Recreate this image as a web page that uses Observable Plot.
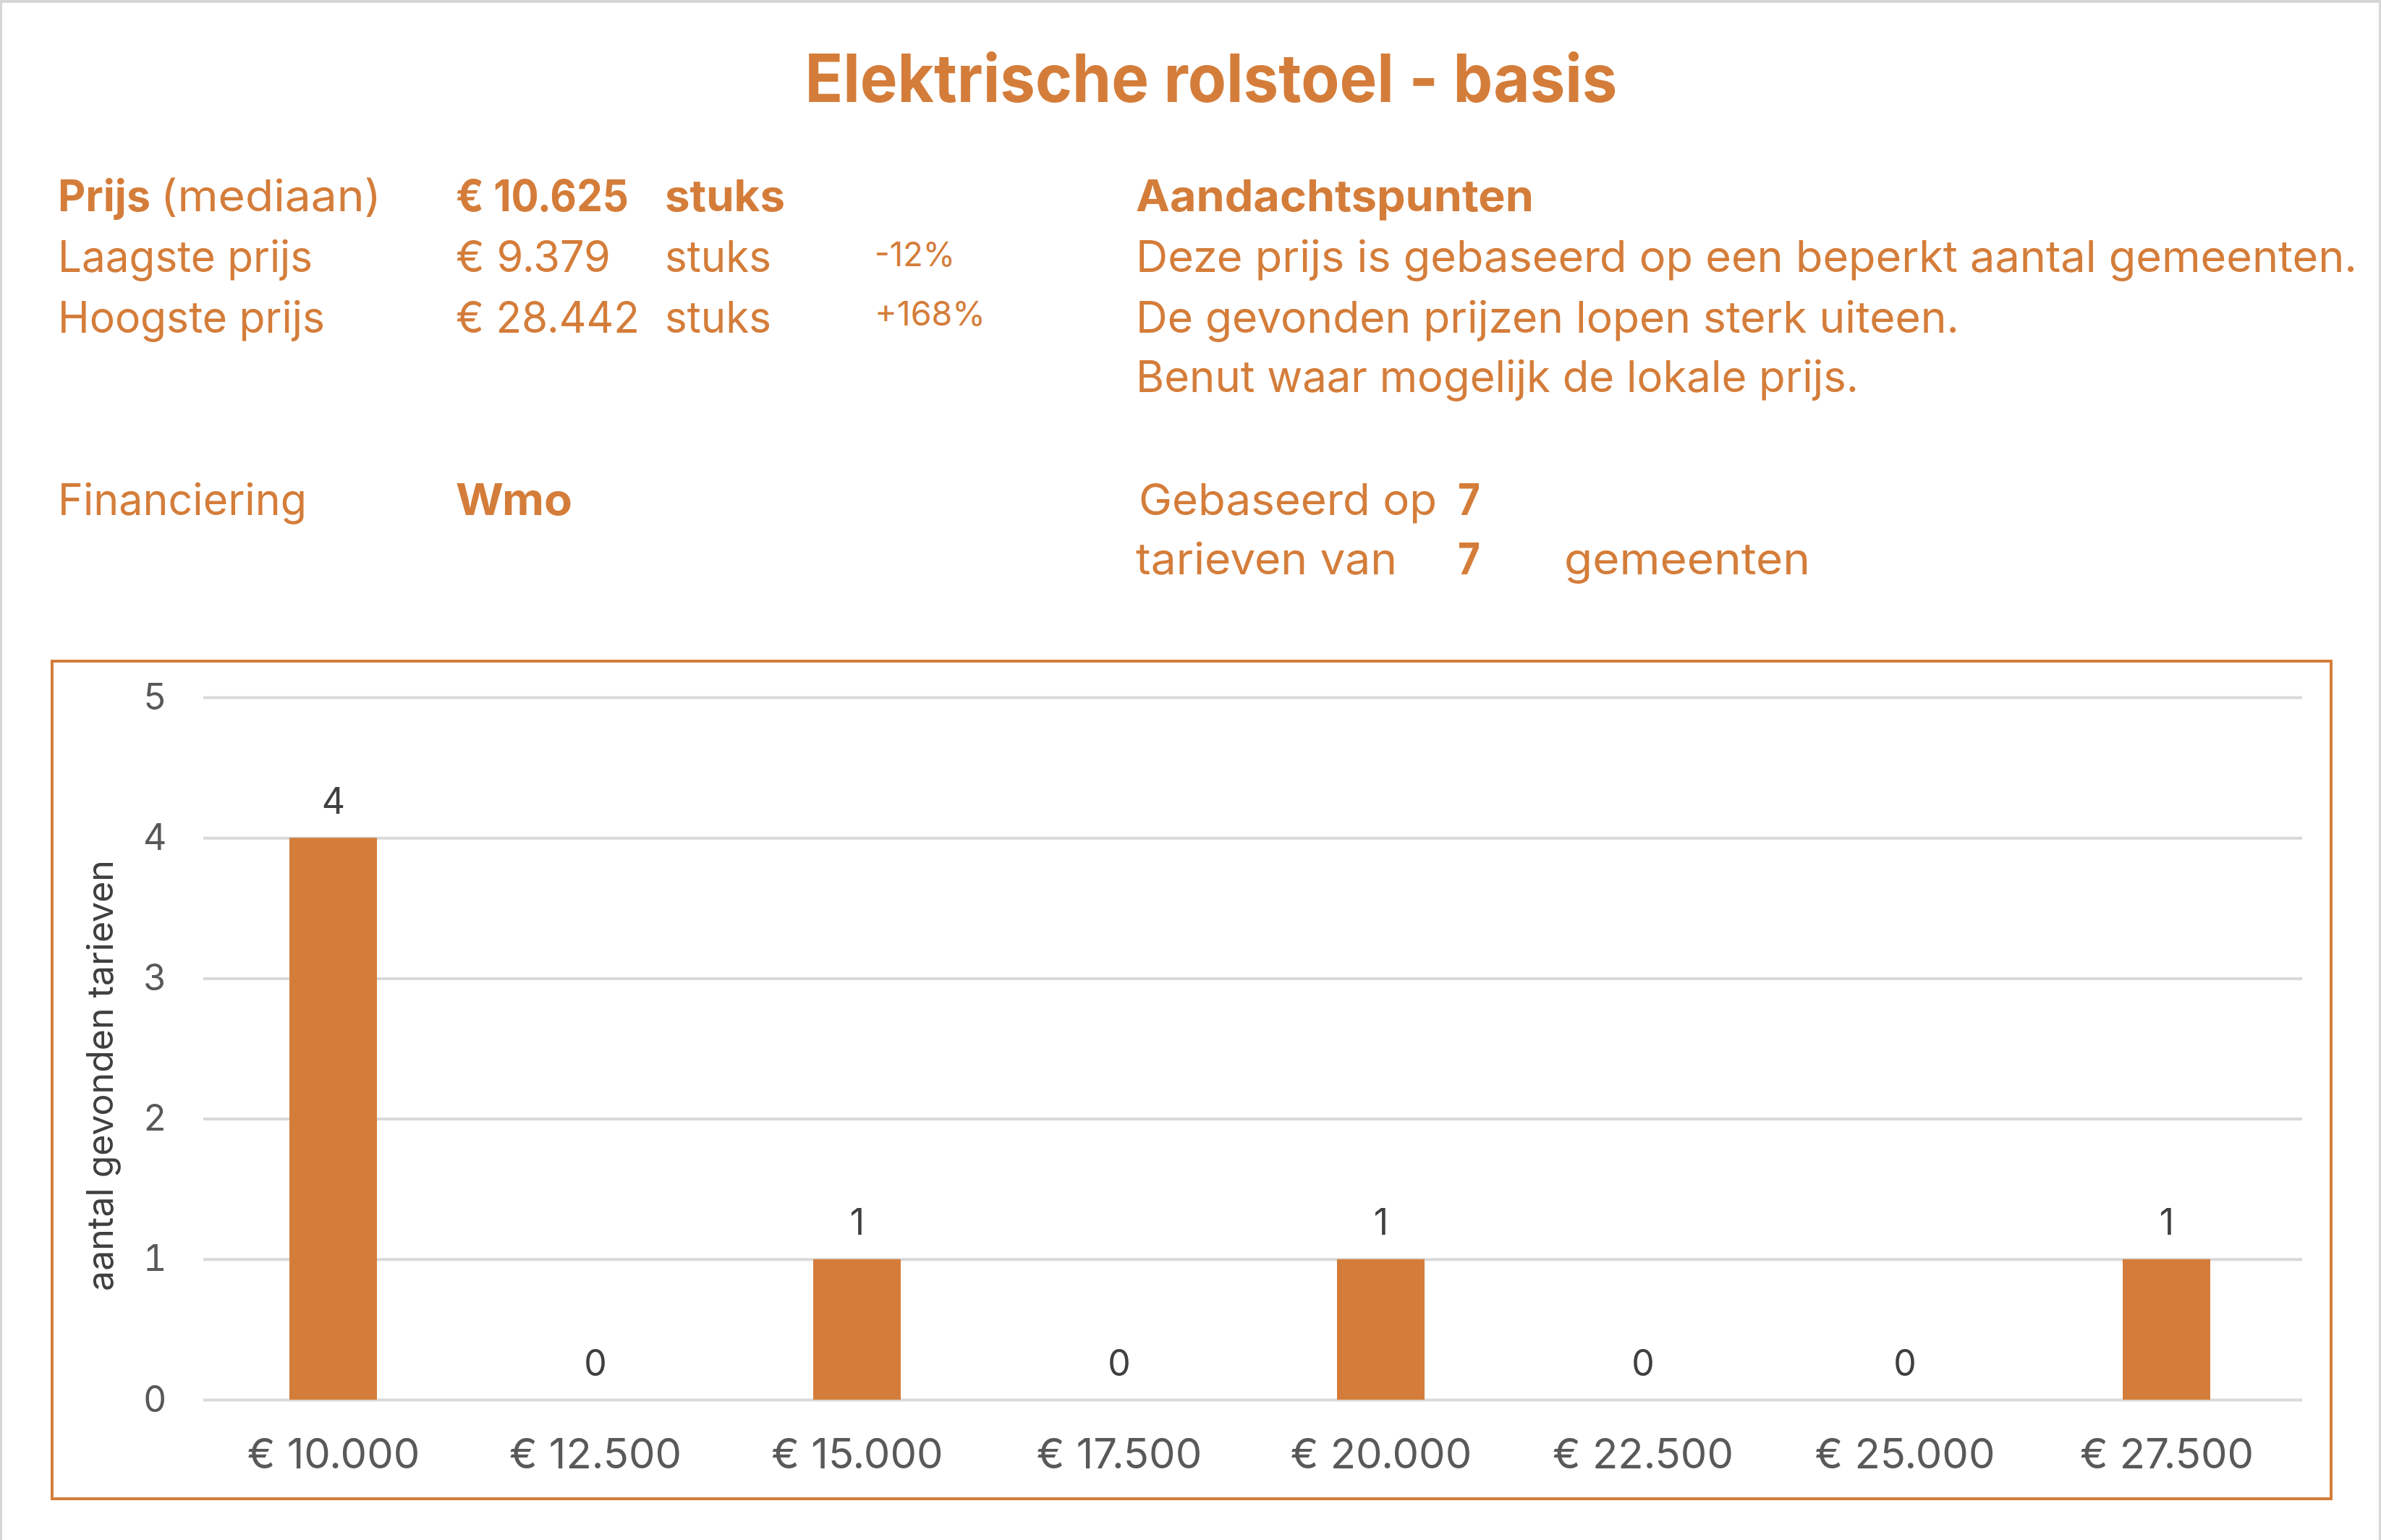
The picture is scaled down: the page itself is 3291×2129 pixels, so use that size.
<!DOCTYPE html>
<html>
<head>
<meta charset="utf-8">
<script src="https://cdn.jsdelivr.net/npm/d3@7"></script>
<script src="https://cdn.jsdelivr.net/npm/@observablehq/plot@0.6"></script>
<style>
  html, body { margin: 0; padding: 0; background: #fff; }
  #page { position: relative; width: 3291px; height: 2129px; overflow: hidden; background: #fff; }
  #pageborder { position: absolute; left: 0; top: 0; width: 3291px; height: 2129px; box-sizing: border-box;
    border-top: 4px solid #d6d6d6; border-left: 3px solid #d6d6d6; border-right: 3px solid #d6d6d6; pointer-events: none; }
  #header { position: absolute; left: 0; top: 0; }
  #frame { position: absolute; left: 70px; top: 912px; width: 3154px; height: 1162px; box-sizing: border-box;
    border: 4px solid #D47D3A; }
  #chart { position: absolute; left: 72px; top: 914px; }
</style>
</head>
<body>
<div id="page">
  <svg id="header" width="3291" height="900"></svg>
  <div id="frame"></div>
  <div id="chart"></div>
  <div id="pageborder"></div>
</div>
<script>
// ---------- data ----------
const title = "Elektrische rolstoel - basis";
const priceLabels = ["Prijs", "Laagste prijs", "Hoogste prijs"];
const medianNote = "(mediaan)";
const priceValues = ["€ 10.625", "€ 9.379", "€ 28.442"];
const priceUnit = "stuks";
const priceDiffs = ["", "-12%", "+168%"];
const notesTitle = "Aandachtspunten";
const notes = [
  "Deze prijs is gebaseerd op een beperkt aantal gemeenten.",
  "De gevonden prijzen lopen sterk uiteen.",
  "Benut waar mogelijk de lokale prijs."
];
const financingLabel = "Financiering";
const financing = "Wmo";
const basisTexts = ["Gebaseerd op", "tarieven van", "gemeenten"];
const nTarieven = 7;
const nGemeenten = 7;

const categories = ["€ 10.000", "€ 12.500", "€ 15.000", "€ 17.500", "€ 20.000", "€ 22.500", "€ 25.000", "€ 27.500"];
const counts = [4, 0, 1, 0, 1, 0, 0, 1];
const yTicks = [0, 1, 2, 3, 4, 5];
const yLabel = "aantal gevonden tarieven";

// ---------- header ----------
const ORANGE = "#D47D3A";
const FONT = "Inter, 'Open Sans', sans-serif";
const hdr = d3.select("#header");
function txt(str, x, y, size, weight, w, anchor) {
  const t = hdr.append("text")
    .attr("x", x).attr("y", y)
    .attr("font-family", FONT)
    .attr("font-size", size)
    .attr("font-weight", weight)
    .attr("fill", ORANGE)
    .attr("text-anchor", anchor || "start")
    .text(str);
  if (w) t.attr("textLength", w).attr("lengthAdjust", "spacingAndGlyphs");
  return t;
}
const REG = 60, SMALL = 46;
const rowY = [292, 376, 460, 542];
txt(title, 1674, 141, 92, 700, 1123, "middle");
// price block
txt(priceLabels[0], 80, rowY[0], REG, 700, 128);
txt(medianNote, 222, rowY[0], REG, 400, 305);
txt(priceLabels[1], 80, rowY[1], REG, 400, 352);
txt(priceLabels[2], 80, rowY[2], REG, 400, 369);
txt(priceValues[0], 630, rowY[0], REG, 700, 239);
txt(priceValues[1], 630, rowY[1], REG, 400, 214);
txt(priceValues[2], 630, rowY[2], REG, 400, 254);
txt(priceUnit, 919, rowY[0], REG, 700, 166);
txt(priceUnit, 919, rowY[1], REG, 400, 147);
txt(priceUnit, 919, rowY[2], REG, 400, 147);
txt(priceDiffs[1], 1209, rowY[1] - 8, SMALL, 400, 111);
txt(priceDiffs[2], 1209, rowY[2] - 10, SMALL, 400, 153);
// notes
txt(notesTitle, 1570, rowY[0], REG, 700, 550);
txt(notes[0], 1570, rowY[1], REG, 400, 1688);
txt(notes[1], 1570, rowY[2], REG, 400, 1138);
txt(notes[2], 1570, rowY[3], REG, 400, 999);
// financing + basis
txt(financingLabel, 80, 712, REG, 400, 344);
txt(financing, 630, 712, REG, 700, 161);
txt(basisTexts[0], 1574, 712, REG, 400, 412);
txt(String(nTarieven), 2015, 712, REG, 700, 31);
txt(basisTexts[1], 1570, 794, REG, 400, 361);
txt(String(nGemeenten), 2015, 794, REG, 700, 31);
txt(basisTexts[2], 2162, 794, REG, 400, 340);

// ---------- chart ----------
const data = categories.map((c, i) => ({cat: c, n: counts[i]}));
const chart = Plot.plot({
  width: 3150,
  height: 1158,
  marginLeft: 209,
  marginRight: 40,
  marginTop: 50,
  marginBottom: 137,
  style: {fontFamily: FONT, fontSize: "50px", background: "transparent", overflow: "visible"},
  x: {domain: categories, paddingInner: 0.666, paddingOuter: 0.333, align: 0.484, label: null},
  y: {domain: [0, 5], ticks: yTicks, tickFormat: d => String(d), label: null},
  marks: [
    Plot.gridY(yTicks, {stroke: "#d9d9d9", strokeWidth: 4, strokeOpacity: 1}),
    Plot.barY(data, {x: "cat", y: "n", fill: ORANGE}),
    Plot.text(data, {x: "cat", y: "n", text: d => String(d.n), dy: -50, fontSize: 50, fill: "#404040"}),
    Plot.axisY(yTicks, {tickSize: 0, tickPadding: 51, fontSize: 50, fill: "#595959", tickFormat: d => String(d), label: null}),
    Plot.axisX({tickSize: 0, tickPadding: 53, fontSize: 58, fill: "#595959", label: null}),
    Plot.text([yLabel], {frameAnchor: "left", textAnchor: "middle", rotate: -90, dx: -142, dy: 37, fontSize: 50, fill: "#404040", text: d => d})
  ]
});
document.getElementById("chart").appendChild(chart);
</script>
</body>
</html>
